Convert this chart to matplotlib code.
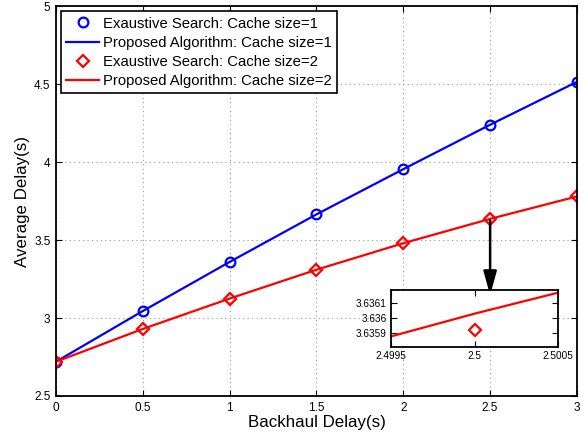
import numpy as np
from matplotlib import pyplot as plt

plt.rcParams['font.family'] = ['Liberation Sans', 'DejaVu Sans']

backhaul = [0, 0.5, 1, 1.5, 2, 2.5, 3]
# cache size = 1
exh_c1 = [2.72, 3.045, 3.36, 3.665, 3.955, 4.24, 4.515]
prop_c1 = [2.72, 3.045, 3.36, 3.665, 3.955, 4.24, 4.515]
# cache size = 2
exh_c2 = [2.72, 2.93, 3.125, 3.31, 3.48, 3.63592, 3.78]
prop_c2 = [2.72, 2.93, 3.125, 3.31, 3.48, 3.63603, 3.78]

xticks_main = [0, 0.5, 1, 1.5, 2, 2.5, 3]
yticks_main = [2.5, 3, 3.5, 4, 4.5, 5]
xticks_zoom = [2.4995, 2.5, 2.5005]
yticks_zoom = [3.6359, 3.636, 3.6361]


def matlab_axes(ax, fs, pad=4):
    ax.tick_params(direction='in', top=True, right=True, labelsize=fs,
                   length=4, width=0.8, pad=pad)
    for s in ax.spines.values():
        s.set_linewidth(1.3)


fig = plt.figure(figsize=(5.88, 4.34), dpi=100)
ax = fig.add_axes([0.0952, 0.0876, 0.886, 0.898])

ax.plot(backhaul, exh_c1, 'o', color='b', ms=7, mfc='none', mew=1.6,
        label='Exaustive Search: Cache size=1')
ax.plot(backhaul, prop_c1, '-', color='b', lw=1.6,
        label='Proposed Algorithm: Cache size=1')
ax.plot(backhaul, exh_c2, 'D', color='r', ms=6, mfc='none', mew=1.6,
        label='Exaustive Search: Cache size=2')
ax.plot(backhaul, prop_c2, '-', color='r', lw=1.6,
        label='Proposed Algorithm: Cache size=2')

ax.set_xlim(0, 3)
ax.set_ylim(2.5, 5)
ax.set_xticks(xticks_main)
ax.set_xticklabels(['0', '0.5', '1', '1.5', '2', '2.5', '3'])
ax.set_yticks(yticks_main)
ax.set_yticklabels(['2.5', '3', '3.5', '4', '4.5', '5'])
ax.grid(True, linestyle=(0, (1, 3)), color='#999999', linewidth=0.8)
matlab_axes(ax, 8.5)
ax.set_xlabel('Backhaul Delay(s)', fontsize=12.2, labelpad=1)
ax.set_ylabel('Average Delay(s)', fontsize=12.2, labelpad=3)

leg = ax.legend(loc='upper left', fontsize=10.7, fancybox=False, framealpha=1,
                edgecolor='k', borderaxespad=0.35, handlelength=2.2,
                borderpad=0.35, labelspacing=0.34, handletextpad=0.25)
leg.get_frame().set_linewidth(1.2)

# arrow pointing to the zoomed box
ax.annotate('', xy=(2.5, 3.147), xytext=(2.5, 3.625),
            arrowprops=dict(arrowstyle='-|>,head_length=0.9,head_width=0.25',
                            color='k', lw=1.8,
                            mutation_scale=16, shrinkA=0, shrinkB=0))

# zoomed inset
axin = fig.add_axes([0.665, 0.200, 0.284, 0.131])
axin.plot(backhaul, exh_c2, 'D', color='r', ms=6, mfc='none', mew=1.6)
axin.plot(backhaul, prop_c2, '-', color='r', lw=1.6)
axin.set_xlim(2.4995, 2.5005)
axin.set_ylim(3.6358, 3.63619)
axin.set_xticks(xticks_zoom)
axin.set_xticklabels(['2.4995', '2.5', '2.5005'])
axin.set_yticks(yticks_zoom)
axin.set_yticklabels(['3.6359', '3.636', '3.6361'])
matlab_axes(axin, 7.2, pad=3)
axin.set_facecolor('white')

fig.savefig('out.png', dpi=100)
